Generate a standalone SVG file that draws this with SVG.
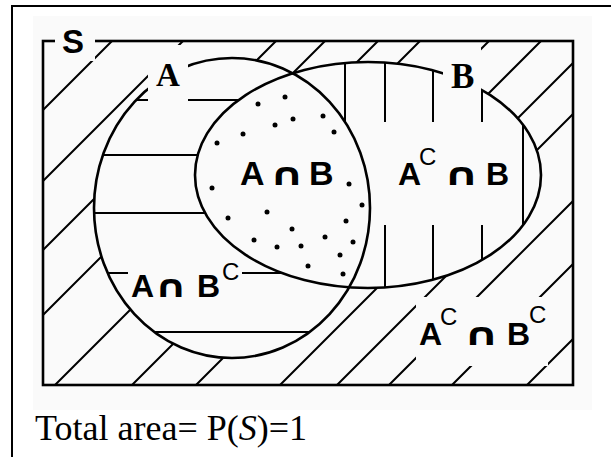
<svg xmlns="http://www.w3.org/2000/svg" width="611" height="457" viewBox="0 0 611 457">
<style>
.hatch{stroke:#000;stroke-width:2;fill:none;stroke-linecap:butt}
.outline{stroke:#000;stroke-width:2.6;fill:none}
.frame{stroke:#000;stroke-width:2;fill:none}
.sans{font-family:"Liberation Sans",Arial,sans-serif;font-weight:bold;fill:#000}
.cap{font-family:"DejaVu Sans","Liberation Sans",sans-serif;font-weight:bold;font-size:31px}
.sup{font-family:"Liberation Sans",Arial,sans-serif;font-size:24px;font-weight:normal}
.serif{font-family:"Liberation Serif","Times New Roman",serif;fill:#000}
.dot{fill:#000}
</style>
<defs>
<ellipse id="eA" cx="232" cy="208" rx="138" ry="150"/>
<ellipse id="eB" cx="368" cy="175" rx="173" ry="113"/>
<mask id="mOut" maskUnits="userSpaceOnUse" x="0" y="0" width="611" height="457">
<rect width="611" height="457" fill="#fff"/>
<rect x="55" y="22" width="40" height="39" fill="#000"/>
<rect x="148" y="45" width="40" height="57" fill="#000"/>
<rect x="443" y="44" width="38" height="49" fill="#000"/>
</mask>
<mask id="mDiag" maskUnits="userSpaceOnUse" x="0" y="0" width="611" height="457">
<rect width="611" height="457" fill="#fff"/>
<use href="#eA" fill="#000"/>
<use href="#eB" fill="#000"/>
<rect x="55" y="22" width="40" height="39" fill="#000"/>
<rect x="148" y="45" width="40" height="57" fill="#000"/>
<rect x="443" y="44" width="38" height="49" fill="#000"/>
<rect x="416" y="297" width="132" height="69" fill="#000"/>
</mask>
<mask id="mHor" maskUnits="userSpaceOnUse" x="0" y="0" width="611" height="457">
<use href="#eA" fill="#fff"/>
<use href="#eB" fill="#000"/>
<rect x="148" y="45" width="40" height="57" fill="#000"/>
<rect x="128" y="258" width="114" height="42" fill="#000"/>
</mask>
<mask id="mVer" maskUnits="userSpaceOnUse" x="0" y="0" width="611" height="457">
<use href="#eB" fill="#fff"/>
<use href="#eA" fill="#000"/>
<rect x="340" y="122" width="178" height="103" fill="#000"/>
</mask>
</defs>

<rect x="33" y="16" width="559" height="394" fill="#fafafa"/>
<g id="page-frame">
<path class="frame" d="M12 457V6H611"/>
</g>

<g id="hatch-outside" class="hatch" mask="url(#mDiag)">
<path d="M43 110L112 41 M43 181L183 41 M276 41L250 67 M325 41L290 76 M378 41L350 69 M420 41L395 66 M489 41L470 60 M541 41L480 102 M573 63L510 126 M573 114L530 157 M573 201L389 385 M573 264L452 385 M573 339L527 385 M455 267L337 385 M385 280L280 385 M230 351L196 385 M180 337L132 385 M135 305L55 385 M108 250L43 315 M100 193L43 250"/>
</g>
<g id="hatch-A-only" class="hatch" mask="url(#mHor)">
<path d="M80 100H320 M80 155H320 M80 213H320 M80 273H320 M80 332H330"/>
</g>
<g id="hatch-B-only" class="hatch" mask="url(#mVer)">
<path d="M345 40V300 M385 40V300 M433 40V300 M482 40V300 M523 40V300"/>
</g>

<g id="outlines" mask="url(#mOut)">
<rect id="sample-space" class="outline" x="43" y="41" width="530" height="344" stroke-width="3"/>
<use id="set-A" href="#eA" class="outline"/>
<use id="set-B" href="#eB" class="outline"/>
</g>

<g id="dots-AB" class="dot">
<circle cx="285" cy="97" r="2.5"/><circle cx="258" cy="104" r="2.5"/><circle cx="293" cy="119" r="2.5"/>
<circle cx="275" cy="125" r="2.5"/><circle cx="323" cy="116" r="2.5"/><circle cx="243" cy="134" r="2.5"/>
<circle cx="334" cy="132" r="2.5"/><circle cx="217" cy="143" r="2.5"/><circle cx="212" cy="188" r="2.5"/>
<circle cx="349" cy="184" r="2.5"/><circle cx="362" cy="205" r="2.5"/><circle cx="267" cy="212" r="2.5"/>
<circle cx="228" cy="218" r="2.5"/><circle cx="346" cy="221" r="2.5"/><circle cx="292" cy="229" r="2.5"/>
<circle cx="325" cy="237" r="2.5"/><circle cx="353" cy="242" r="2.5"/><circle cx="254" cy="240" r="2.5"/>
<circle cx="277" cy="247" r="2.5"/><circle cx="301" cy="246" r="2.5"/><circle cx="340" cy="255" r="2.5"/>
<circle cx="308" cy="266" r="2.5"/><circle cx="343" cy="274" r="2.5"/>
</g>

<g id="label-S"><text class="sans" x="62" y="53" font-size="33">S</text></g>
<g id="label-A"><text class="serif" x="156" y="86" font-size="33" font-weight="bold">A</text></g>
<g id="label-B"><text class="serif" x="451" y="88" font-size="35" font-weight="bold">B</text></g>
<g id="label-AB"><text class="sans" y="185" font-size="34"><tspan x="240">A</tspan><tspan class="cap" x="269" textLength="36" lengthAdjust="spacingAndGlyphs">∩</tspan><tspan x="309">B</tspan></text></g>
<g id="label-AcB"><text class="sans" y="185" font-size="32"><tspan x="398">A</tspan><tspan class="sup" x="419" y="165">C</tspan><tspan class="cap" x="443" y="185" textLength="37" lengthAdjust="spacingAndGlyphs">∩</tspan><tspan x="486">B</tspan></text></g>
<g id="label-ABc"><text class="sans" y="297" font-size="32"><tspan x="131">A</tspan><tspan class="cap" x="154" y="297" textLength="34" lengthAdjust="spacingAndGlyphs">∩</tspan><tspan x="197">B</tspan><tspan class="sup" x="222" y="280">C</tspan></text></g>
<g id="label-AcBc"><text class="sans" y="345" font-size="32"><tspan x="419">A</tspan><tspan class="sup" x="440" y="325">C</tspan><tspan class="cap" x="463" y="345" textLength="37" lengthAdjust="spacingAndGlyphs">∩</tspan><tspan x="507">B</tspan><tspan class="sup" x="529" y="323">C</tspan></text></g>

<g id="caption"><text class="serif" x="35" y="440" font-size="36">Total area= P(<tspan font-style="italic">S</tspan>)=1</text></g>
</svg>
